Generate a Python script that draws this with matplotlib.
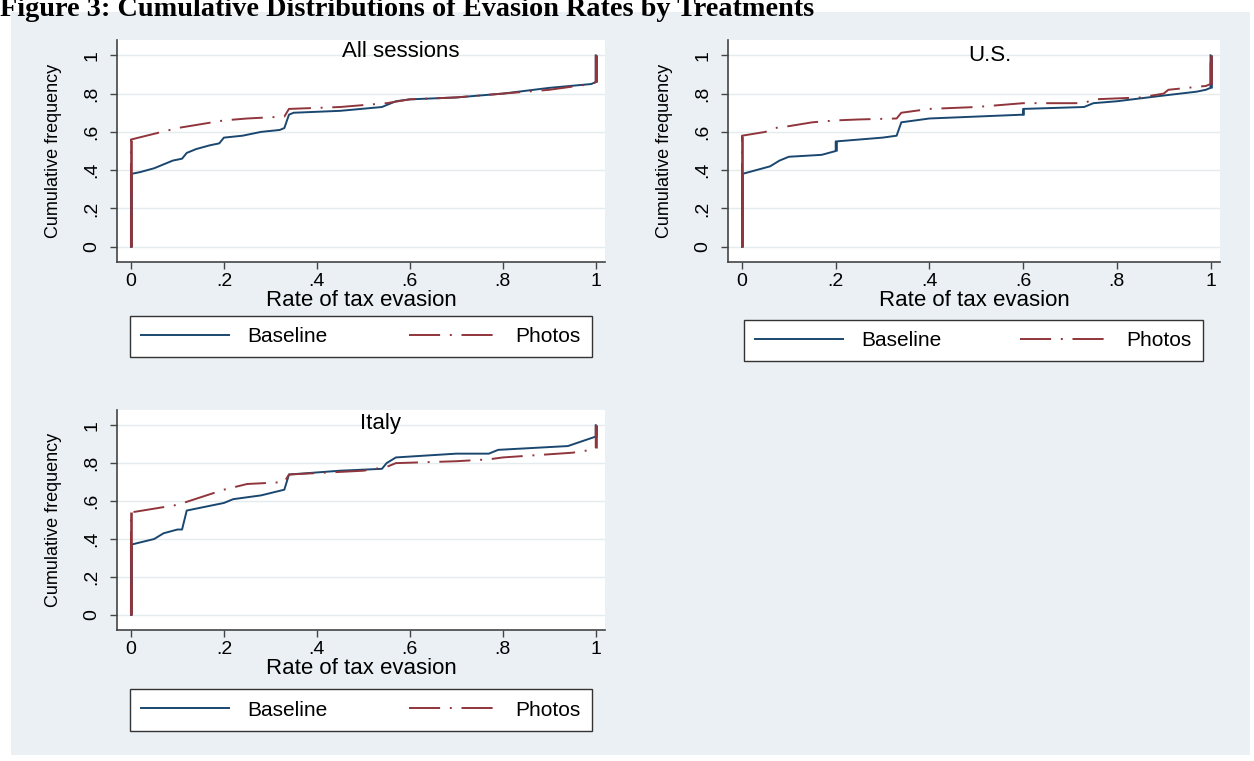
import matplotlib
matplotlib.use("Agg")
import matplotlib.pyplot as plt
from matplotlib.patches import Rectangle

# cumulative distribution points (x = rate, y = cum. freq)
all_base_x = [0, 0, 0.02, 0.05, 0.07, 0.09, 0.11, 0.12, 0.14, 0.17, 0.19, 0.2, 0.24, 0.28, 0.32, 0.33,
              0.34, 0.35, 0.45, 0.54, 0.57, 0.6, 0.7, 0.8, 0.9, 0.99, 1, 1]
all_base_y = [0, 0.38, 0.39, 0.41, 0.43, 0.45, 0.46, 0.49, 0.51, 0.53, 0.54, 0.57, 0.58, 0.60, 0.61, 0.62,
              0.69, 0.70, 0.71, 0.73, 0.76, 0.77, 0.78, 0.80, 0.83, 0.85, 0.86, 1]
all_photo_x = [0, 0, 0.05, 0.1, 0.15, 0.2, 0.25, 0.33, 0.34, 0.45, 0.55, 0.6, 0.7, 0.8, 0.9, 0.99, 1, 1]
all_photo_y = [0, 0.56, 0.59, 0.62, 0.64, 0.66, 0.67, 0.68, 0.72, 0.73, 0.75, 0.77, 0.78, 0.80, 0.82, 0.85, 0.86, 1]

us_base_x = [0, 0, 0.03, 0.06, 0.08, 0.1, 0.17, 0.2, 0.2, 0.3, 0.33, 0.34, 0.4, 0.5, 0.6, 0.6, 0.73, 0.75,
             0.8, 0.9, 0.97, 0.99, 1, 1]
us_base_y = [0, 0.38, 0.40, 0.42, 0.45, 0.47, 0.48, 0.50, 0.55, 0.57, 0.58, 0.65, 0.67, 0.68, 0.69, 0.72, 0.73, 0.75,
             0.76, 0.79, 0.81, 0.82, 0.83, 1]
us_photo_x = [0, 0, 0.05, 0.07, 0.1, 0.15, 0.2, 0.25, 0.33, 0.34, 0.4, 0.5, 0.6, 0.73, 0.75, 0.85, 0.9, 0.91,
              0.95, 0.99, 1, 1]
us_photo_y = [0, 0.58, 0.60, 0.62, 0.63, 0.65, 0.66, 0.665, 0.67, 0.70, 0.72, 0.73, 0.75, 0.75, 0.77, 0.78, 0.80, 0.82,
              0.83, 0.84, 0.85, 1]

it_base_x = [0, 0, 0.05, 0.07, 0.1, 0.11, 0.12, 0.2, 0.22, 0.28, 0.33, 0.34, 0.45, 0.54, 0.55, 0.57, 0.7, 0.77,
             0.79, 0.94, 1, 1]
it_base_y = [0, 0.37, 0.40, 0.43, 0.45, 0.45, 0.55, 0.59, 0.61, 0.63, 0.66, 0.74, 0.76, 0.77, 0.80, 0.83, 0.85, 0.85,
             0.87, 0.89, 0.94, 1]
it_photo_x = [0, 0, 0.1, 0.15, 0.2, 0.25, 0.33, 0.34, 0.5, 0.55, 0.57, 0.7, 0.77, 0.8, 0.95, 0.99, 1, 1]
it_photo_y = [0, 0.54, 0.58, 0.62, 0.66, 0.69, 0.70, 0.74, 0.76, 0.78, 0.80, 0.81, 0.82, 0.83, 0.855, 0.87, 0.88, 1]

ticks = [0, 0.2, 0.4, 0.6, 0.8, 1]
tick_labels = ['0', '.2', '.4', '.6', '.8', '1']

NAVY = '#1a476f'
MAROON = '#90353b'
PHOTO_LS = (0, (16, 5, 1, 5))

plt.rcParams['font.family'] = ['Liberation Sans', 'DejaVu Sans']


def draw_cdf(ax, xs, ys, color, ls, label):
    ax.plot(xs, ys, color=color, lw=1.4, linestyle=ls, label=label)
    # vertical jumps (repeated x) come out solid in the original
    for i in range(len(xs) - 1):
        if xs[i] == xs[i + 1]:
            ax.plot(xs[i:i + 2], ys[i:i + 2], color=color, lw=1.9, solid_capstyle='butt')


def panel(fig, rect, title, title_xy, base, photo, legend_box):
    ax = fig.add_axes(rect)
    ax.set_facecolor('white')
    draw_cdf(ax, base[0], base[1], NAVY, '-', 'Baseline')
    draw_cdf(ax, photo[0], photo[1], MAROON, PHOTO_LS, 'Photos')
    ax.set_xlim(-0.03, 1.02)
    ax.set_ylim(-0.08, 1.08)
    ax.set_xticks(ticks)
    ax.set_xticklabels(tick_labels)
    ax.set_yticks(ticks)
    ax.set_yticklabels(tick_labels, rotation=90, va='center')
    ax.tick_params(labelsize=14, length=5, width=1, color='#444444', pad=3)
    ax.tick_params(axis='y', pad=7)
    ax.grid(axis='y', color='#e4ecef', lw=1)
    ax.set_axisbelow(True)
    for s in ['top', 'right']:
        ax.spines[s].set_visible(False)
    for s in ['left', 'bottom']:
        ax.spines[s].set_color('#444444')
        ax.spines[s].set_linewidth(1.2)
    ax.set_xlabel('Rate of tax evasion', fontsize=16, labelpad=0)
    ax.set_ylabel('Cumulative frequency', fontsize=13, labelpad=15)
    ax.text(title_xy[0], title_xy[1], title, ha='center', va='center', fontsize=16)
    leg = ax.legend(loc='center', bbox_to_anchor=legend_box, bbox_transform=fig.transFigure,
                    mode='expand', ncol=2, fontsize=15, handlelength=4.2, handletextpad=0.9,
                    fancybox=False, borderaxespad=0, borderpad=0.55, framealpha=1,
                    edgecolor='#333333')
    leg.get_frame().set_linewidth(1)
    return ax


fig = plt.figure(figsize=(12.54, 7.61), dpi=100)
fig.patches.append(Rectangle((11 / 1254, 1 - 755 / 761), 1239 / 1254, 743 / 761,
                             transform=fig.transFigure, facecolor='#eaf0f3', edgecolor='none', zorder=-1))
fig.text(0.0, 1 - 16 / 761, 'Figure 3: Cumulative Distributions of Evasion Rates by Treatments',
         fontsize=20.3, fontweight='bold', family='Liberation Serif', va='baseline', ha='left')

panel(fig, [0.0933, 0.6557, 0.3892, 0.2917], 'All sessions', (0.58, 1.02),
      (all_base_x, all_base_y), (all_photo_x, all_photo_y), (0.1037, 0.5335, 0.3684, 0.0486))
panel(fig, [0.5805, 0.6557, 0.3923, 0.2917], 'U.S.', (0.53, 1.0),
      (us_base_x, us_base_y), (us_photo_x, us_photo_y), (0.5933, 0.5296, 0.366, 0.046))
panel(fig, [0.0933, 0.1721, 0.3892, 0.2891], 'Italy', (0.537, 1.01),
      (it_base_x, it_base_y), (it_photo_x, it_photo_y), (0.1037, 0.0407, 0.3684, 0.0526))

fig.savefig('out.png', dpi=100)
